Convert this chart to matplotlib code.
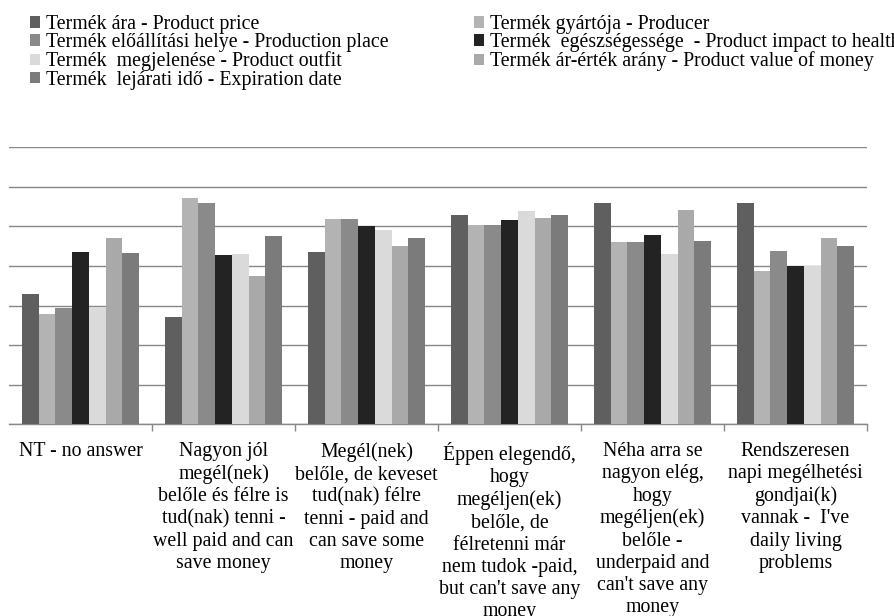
import matplotlib
matplotlib.use("Agg")
import matplotlib.pyplot as plt
import numpy as np
from matplotlib.patches import Patch

categories = [
    "NT - no answer",
    "Nagyon jól\nmegél(nek)\nbelőle és félre is\ntud(nak) tenni -\nwell paid and can\nsave money",
    "Megél(nek)\nbelőle, de keveset\ntud(nak) félre\ntenni - paid and\ncan save some\nmoney",
    "Éppen elegendő,\nhogy\nmegéljen(ek)\nbelőle, de\nfélretenni már\nnem tudok -paid,\nbut can't save any\nmoney",
    "Néha arra se\nnagyon elég,\nhogy\nmegéljen(ek)\nbelőle -\nunderpaid and\ncan't save any\nmoney",
    "Rendszeresen\nnapi megélhetési\ngondjai(k)\nvannak -  I've\ndaily living\nproblems",
]

series_names = [
    "Termék ára - Product price",
    "Termék gyártója - Producer",
    "Termék előállítási helye - Production place",
    "Termék  egészségessége  - Product impact to health",
    "Termék  megjelenése - Product outfit",
    "Termék ár-érték arány - Product value of money",
    "Termék  lejárati idő - Expiration date",
]

price       = [1.65, 1.35, 2.18, 2.64, 2.80, 2.80]
producer    = [1.39, 2.86, 2.59, 2.52, 2.30, 1.94]
place       = [1.47, 2.80, 2.59, 2.52, 2.30, 2.19]
health      = [2.18, 2.14, 2.50, 2.58, 2.39, 2.00]
outfit      = [1.48, 2.15, 2.46, 2.69, 2.15, 2.00]
value_money = [2.36, 1.88, 2.25, 2.61, 2.71, 2.35]
expiration  = [2.16, 2.38, 2.36, 2.64, 2.31, 2.25]

series = [price, producer, place, health, outfit, value_money, expiration]
colors = ["#5f5f5f", "#b3b3b3", "#8a8a8a", "#232323", "#dadada", "#a9a9a9", "#7b7b7b"]

serif = ["Liberation Serif", "DejaVu Serif"]
fsize = 14.3

fig = plt.figure(figsize=(8.95, 6.16), dpi=100)
ax = fig.add_axes([9 / 895, 1 - 424.3 / 616, (867 - 9) / 895, (424.3 - 147.3) / 616])

n = len(series)
bar_w = 0.822 / n
x = np.arange(len(categories))
for i, (vals, col) in enumerate(zip(series, colors)):
    offs = (i - (n - 1) / 2) * bar_w
    ax.bar(x + offs, vals, width=bar_w, color=col, edgecolor="none", zorder=3)

ax.set_xlim(-0.5, len(categories) - 0.5)
ax.set_ylim(0, 3.5)
ax.set_yticks(np.arange(0, 3.51, 0.5))
ax.yaxis.grid(True, color="#878787", linewidth=1.0, zorder=0)
ax.tick_params(axis="y", length=0, labelleft=False)
for s in ["top", "right", "left"]:
    ax.spines[s].set_visible(False)
ax.spines["bottom"].set_color("#878787")
ax.spines["bottom"].set_linewidth(1.0)

# category separators as minor ticks, labels at major positions
ax.set_xticks(x)
ax.set_xticklabels(categories, fontfamily=serif, fontsize=fsize, linespacing=1.22, va="top")
ax.tick_params(axis="x", which="major", length=0, pad=13)
ax.set_xticks(np.arange(0.5, len(categories), 1.0), minor=True)
ax.tick_params(axis="x", which="minor", length=5, width=1, color="#878787", direction="out")

handles = [Patch(facecolor=c, edgecolor="none") for c in colors]
order = [0, 2, 4, 6, 1, 3, 5]
leg = fig.legend(
    [handles[i] for i in order], [series_names[i] for i in order],
    loc="upper left", bbox_to_anchor=(30 / 895, 1 - 15 / 616), ncol=2,
    frameon=False, prop={"family": serif, "size": fsize},
    handlelength=0.5, handleheight=0.5, handletextpad=0.3,
    labelspacing=-0.04, columnspacing=4.3, borderaxespad=0, borderpad=0,
)

fig.savefig("out.png", dpi=100)
